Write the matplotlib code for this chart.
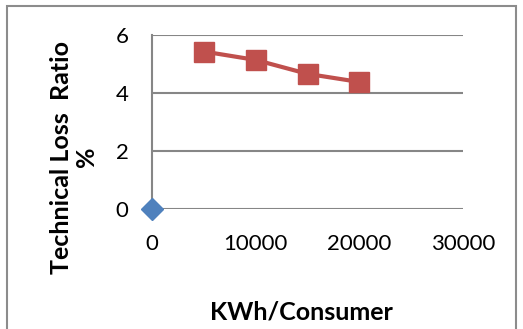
import matplotlib.pyplot as plt
from matplotlib.patches import Rectangle

# data
kwh = [5000, 10000, 15000, 20000]
loss_ratio = [5.43, 5.14, 4.66, 4.38]
origin_x = [0]
origin_y = [0]

plt.rcParams['font.family'] = ['Lato', 'DejaVu Sans']

fig = plt.figure(figsize=(5.23, 3.29), dpi=100)
fig.patches.append(Rectangle((7 / 523, -0.1), 509 / 523, 1.1 - 6 / 329,
                             transform=fig.transFigure, fill=False,
                             edgecolor='#8c8c8c', linewidth=1.5))

ax = fig.add_axes([152 / 523, 1 - 209 / 329, 311 / 523, 174 / 329])
ax.set_xlim(0, 30000)
ax.set_ylim(0, 6)
ax.set_xticks([0, 10000, 20000, 30000])
ax.set_yticks([0, 2, 4, 6])
ax.yaxis.grid(True, color='#868686', linewidth=1.5)
ax.set_axisbelow(True)
for s in ['top', 'right', 'bottom']:
    ax.spines[s].set_visible(False)
ax.spines['left'].set_color('#868686')
ax.spines['left'].set_linewidth(1.5)
ax.tick_params(length=0, labelsize=16, colors='black')
ax.tick_params(axis='x', pad=18)
ax.tick_params(axis='y', pad=17)

ax.plot(kwh, loss_ratio, color='#C0504D', linewidth=3, marker='s',
        markersize=14, clip_on=False, zorder=3)
ax.plot(origin_x, origin_y, color='#4F81BD', marker='D', markersize=11,
        linestyle='none', clip_on=False, zorder=3)

fig.text(74 / 523, 1 - 157 / 329, 'Technical Loss  Ratio\n%', rotation=90,
         ha='center', va='center', fontsize=18, fontweight='bold',
         multialignment='center', linespacing=1.15)
fig.text(301 / 523, 1 - 312 / 329, 'KWh/Consumer', ha='center', va='center',
         fontsize=18, fontweight='bold')

fig.savefig('out.png', dpi=100)
